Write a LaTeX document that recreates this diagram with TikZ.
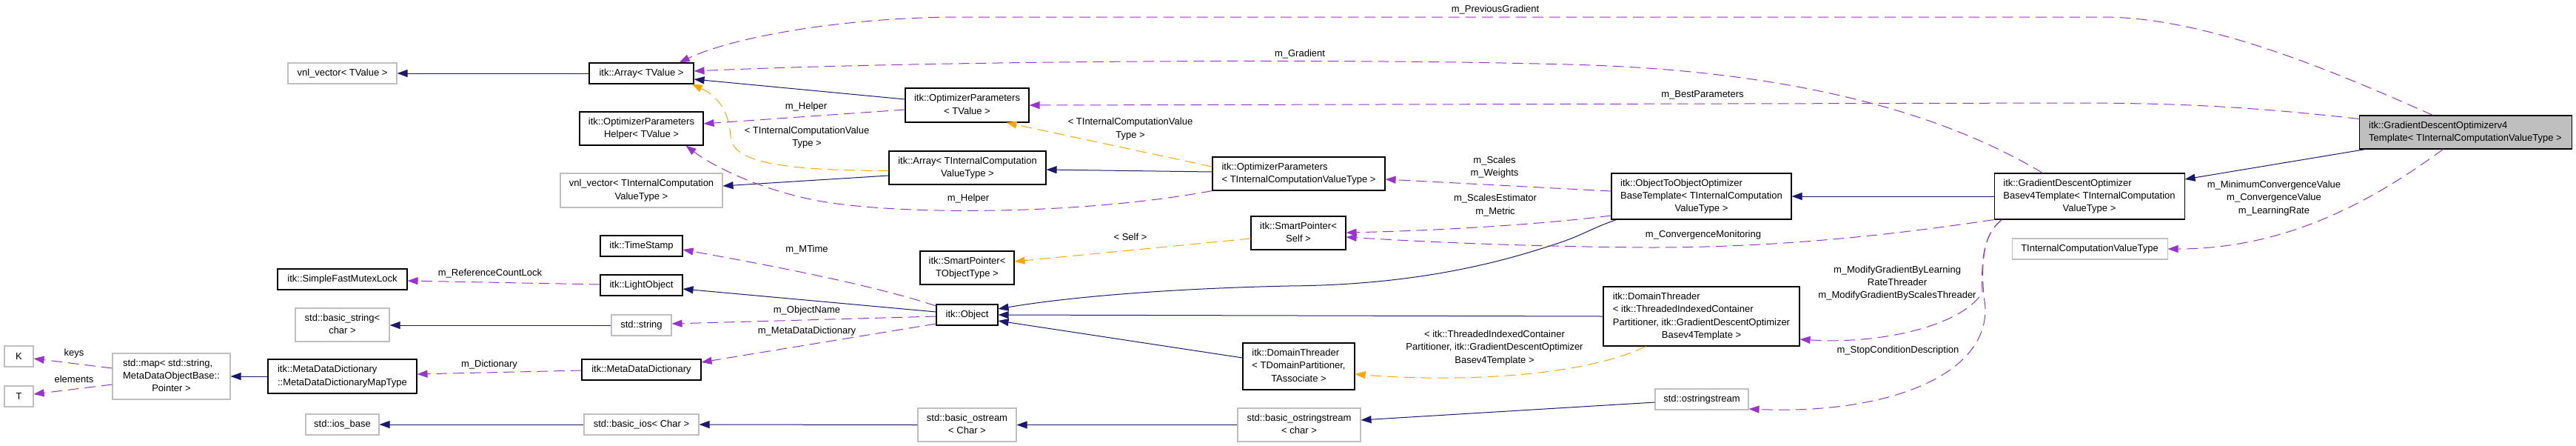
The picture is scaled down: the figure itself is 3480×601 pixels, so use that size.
\documentclass[tikz,border=0pt]{standalone}
\usepackage{fontspec}
\setmainfont{Liberation Sans}
\usetikzlibrary{arrows.meta,calc}
\definecolor{navy}{RGB}{25,25,112}
\definecolor{orch}{RGB}{154,50,205}
\definecolor{orng}{RGB}{255,165,0}
\definecolor{gseven}{RGB}{191,191,191}
\newcommand\tb[1]{\begin{tabular}{@{}l@{}}#1\end{tabular}}
\newcommand\lc[1]{\multicolumn{1}{@{}c@{}}{#1}}
\begin{document}
\begin{tikzpicture}[x=0.75pt,y=-0.75pt,
  font=\fontsize{9.75}{13}\selectfont,
  box/.style={draw=black,line width=0.8pt,fill=white,inner sep=0pt},
  gbox/.style={box,draw=gseven},
  sz/.style 2 args={minimum width=#1*0.75pt,minimum height=#2*0.75pt},
  tipa/.style={-{Triangle[length=10.5pt,width=7.5pt]}},
  inh/.style={draw=navy,line width=0.75pt,tipa},
  use/.style={draw=orch,line width=0.75pt,dash pattern=on 11pt off 6pt,tipa},
  tpl/.style={draw=orng,line width=0.75pt,dash pattern=on 11pt off 6pt,tipa},
  lbl/.style={inner sep=0pt,align=center}]
\useasboundingbox (0,0) rectangle (3480,601);
% nodes
\node[gbox,sz={147}{28}] (vnlT) at (462.5,99) {vnl\_vector< TValue >};
\node[box,sz={141}{28}] (arrT) at (866.5,99) {itk::Array< TValue >};
\node[box,sz={167}{45}] (helper) at (866.5,173.5) {\tb{itk::OptimizerParameters\\\lc{Helper< TValue >}}};
\node[gbox,sz={219}{46}] (vnlI) at (866.5,257) {\tb{vnl\_vector< TInternalComputation\\\lc{ValueType >}}};
\node[box,sz={167}{46}] (optT) at (1306.5,142) {\tb{itk::OptimizerParameters\\\lc{< TValue >}}};
\node[box,sz={212}{45}] (arrI) at (1307,226.5) {\tb{itk::Array< TInternalComputation\\\lc{ValueType >}}};
\node[box,sz={233}{45}] (optI) at (1754.5,234.5) {\tb{itk::OptimizerParameters\\\lc{< TInternalComputationValueType >}}};
\node[box,sz={128}{45}] (spSelf) at (1754,314.5) {\tb{itk::SmartPointer<\\\lc{Self >}}};
\node[box,sz={127}{45}] (spT) at (1306.5,361.5) {\tb{itk::SmartPointer<\\\lc{TObjectType >}}};
\node[box,sz={83}{28}] (obj) at (1306.5,425) {itk::Object};
\node[box,sz={151}{63}] (dtT) at (1754.5,494.5) {\tb{itk::DomainThreader\\< TDomainPartitioner,\\\lc{TAssociate >}}};
\node[gbox,sz={133}{45}] (bostr) at (1306.5,573.5) {\tb{std::basic\_ostream\\\lc{< Char >}}};
\node[gbox,sz={166}{45}] (bostrs) at (1755,573.5) {\tb{std::basic\_ostringstream\\\lc{< char >}}};
\node[box,sz={243}{62}] (o2o) at (2298.5,265) {\tb{itk::ObjectToObjectOptimizer\\BaseTemplate< TInternalComputation\\\lc{ValueType >}}};
\node[box,sz={265}{80}] (dtI) at (2298.5,427) {\tb{itk::DomainThreader\\< itk::ThreadedIndexedContainer\\Partitioner, itk::GradientDescentOptimizer\\\lc{Basev4Template >}}};
\node[gbox,sz={126}{28}] (ostrs) at (2299,539) {std::ostringstream};
\node[box,sz={257}{62}] (gdob) at (2822.5,265) {\tb{itk::GradientDescentOptimizer\\Basev4Template< TInternalComputation\\\lc{ValueType >}}};
\node[gbox,sz={210}{28}] (ticvt) at (2823,336) {TInternalComputationValueType};
\node[box,fill=gseven,sz={287}{45}] (gdo) at (3330.5,178.5) {\tb{itk::GradientDescentOptimizerv4\\Template< TInternalComputationValueType >}};
\node[box,sz={175}{28}] (sfml) at (462.5,377) {itk::SimpleFastMutexLock};
\node[gbox,sz={127}{45}] (bstr) at (462.5,438.5) {\tb{std::basic\_string<\\\lc{char >}}};
\node[gbox,sz={39}{28}] (K) at (25.5,481) {K};
\node[gbox,sz={39}{28}] (T) at (25.5,535) {T};
\node[gbox,sz={159}{62}] (map) at (231.5,508) {\tb{std::map< std::string,\\MetaDataObjectBase::\\\lc{Pointer >}}};
\node[box,sz={201}{46}] (mapT) at (462.5,508) {\tb{itk::MetaDataDictionary\\::MetaDataDictionaryMapType}};
\node[gbox,sz={99}{28}] (iosb) at (462.5,573) {std::ios\_base};
\node[box,sz={111}{28}] (ts) at (866.5,332) {itk::TimeStamp};
\node[box,sz={111}{28}] (lo) at (866.5,385) {itk::LightObject};
\node[gbox,sz={81}{28}] (str) at (866.5,439) {std::string};
\node[box,sz={161}{28}] (mdd) at (866.5,499) {itk::MetaDataDictionary};
\node[gbox,sz={155}{28}] (bios) at (866.5,573) {std::basic\_ios< Char >};
% labels
\node[lbl] (l1) at (100,477) {keys};
\node[lbl] (l2) at (100,512) {elements};
\node[lbl] (l3) at (662,369) {m\_ReferenceCountLock};
\node[lbl] (l4) at (661,492) {m\_Dictionary};
\node[lbl] (l5) at (1090,337) {m\_MTime};
\node[lbl] (l6) at (1090,419) {m\_ObjectName};
\node[lbl] (l7) at (1090,447) {m\_MetaDataDictionary};
\node[lbl] (l8) at (1089,144) {m\_Helper};
\node[lbl] (l9) at (1090,185.5) {< TInternalComputationValue\\Type >};
\node[lbl] (l10) at (1527,174) {< TInternalComputationValue\\Type >};
\node[lbl] (l11) at (1308,268) {m\_Helper};
\node[lbl] (l12) at (1527,320) {< Self >};
\node[lbl] (l13) at (2020,13) {m\_PreviousGradient};
\node[lbl] (l14) at (1756,73) {m\_Gradient};
\node[lbl] (l15) at (2300,128) {m\_BestParameters};
\node[lbl] (l16) at (2019,225.5) {m\_Scales\\m\_Weights};
\node[lbl] (l17) at (2020,277) {m\_ScalesEstimator\\m\_Metric};
\node[lbl] (l18) at (2301,317) {m\_ConvergenceMonitoring};
\node[lbl] (l19) at (2019,469.5) {< itk::ThreadedIndexedContainer\\Partitioner, itk::GradientDescentOptimizer\\Basev4Template >};
\node[lbl] (l20) at (2563,382) {m\_ModifyGradientByLearning\\RateThreader\\m\_ModifyGradientByScalesThreader};
\node[lbl] (l21) at (2564,473) {m\_StopConditionDescription};
\node[lbl] (l22) at (3072,267.5) {m\_MinimumConvergenceValue\\m\_ConvergenceValue\\m\_LearningRate};
% inheritance
\draw[inh] (arrT.west) -- (vnlT.east);
\draw[inh] ($(optT.west)+(0,-8)$) -- ($(arrT.east)+(0,8)$);
\draw[inh] ($(arrI.west)+(0,10.5)$) -- ($(vnlI.east)+(0,-6)$);
\draw[inh] ($(optI.west)+(0,-2.5)$) -- ($(arrI.east)+(0,2.5)$);
\draw[inh] ($(obj.west)+(0,-4)$) -- ($(lo.east)+(0,5)$);
\draw[inh] (str.west) -- (bstr.east |- str.west);
\draw[inh] (mapT.west) -- (map.east);
\draw[inh] (bios.west) -- (iosb.east);
\draw[inh] (bostr.west) -- (bios.east);
\draw[inh] (bostrs.west) -- (bostr.east);
\draw[inh] ($(ostrs.west)+(0,4)$) -- ($(bostrs.east)+(0,-6.5)$);
\draw[inh] ($(o2o.south west)+(7,0)$) .. controls (2140,312) and (2140,318) .. (2084,335) .. controls (1990,365) and (1880,385) .. (1740,386) .. controls (1560,390) and (1430,403) .. ($(obj.east)+(0,-8)$);
\draw[inh] ($(dtT.west)+(0,-11.5)$) -- ($(obj.east)+(0,8)$);
\draw[inh] (dtI.west) -- (obj.east);
\draw[inh] (gdob.west) -- (o2o.east);
\draw[inh] ($(gdo.south west)+(9,0)$) -- ($(gdob.east)+(0,-23)$);
% template instances
\draw[tpl] ($(arrI.west)+(0,4)$) .. controls (1060,230) and (990,220) .. (987,185) .. controls (985,150) and (970,130) .. ($(arrT.south east)+(-3,0)$);
\draw[tpl] ($(optI.west)+(0,-9.5)$) -- ($(optT.south east)+(-31,0)$);
\draw[tpl] ($(spSelf.west)+(0,7.5)$) -- ($(spT.east)+(0,-8.5)$);
\draw[tpl] ($(dtI.south west)+(58,0)$) .. controls (2130,512) and (1950,515) .. ($(dtT.east)+(0,10.5)$);
% usage
\draw[use] ($(map.west)+(0,-11)$) -- ($(K.east)+(0,3)$);
\draw[use] ($(map.west)+(0,11)$) -- ($(T.east)+(0,-3)$);
\draw[use] ($(mdd.west)+(0,1)$) -- ($(mapT.east)+(0,-3)$);
\draw[use] ($(lo.west)+(0,-1)$) -- ($(sfml.east)+(0,2)$);
\draw[use] ($(obj.west)+(0,-12)$) .. controls (1180,385) and (1050,360) .. ($(ts.east)+(0,5)$);
\draw[use] ($(obj.west)+(0,2)$) -- ($(str.east)+(0,-2)$);
\draw[use] ($(obj.west)+(0,12)$) -- ($(mdd.east)+(0,-10)$);
\draw[use] ($(optT.west)+(0,6)$) -- ($(helper.east)+(0,-6.5)$);
\draw[use] (optI.south west) .. controls (1450,292) and (1200,290) .. (1100,270) .. controls (1020,254) and (960,222) .. ($(helper.south east)+(-24,0)$);
\draw[use] ($(gdo.north west)+(100,0)$) .. controls (3150,95) and (2980,23) .. (2840,23) -- (1300,23) .. controls (1140,23) and (990,50) .. ($(arrT.north east)+(-20,0)$);
\draw[use] ($(gdob.north west)+(66,0)$) .. controls (2620,150) and (2420,98) .. (2150,88) .. controls (1850,78) and (1250,82) .. ($(arrT.east)+(0,-3)$);
\draw[use] ($(gdo.north west)+(0,5)$) .. controls (3050,145) and (2950,139) .. (2800,139) -- (optT.east);
\draw[use] ($(o2o.west)+(0,-7)$) -- ($(optI.east)+(0,7.5)$);
\draw[use] ($(o2o.west)+(0,26)$) .. controls (2080,303) and (1950,311) .. ($(spSelf.east)+(0,-0.5)$);
\draw[use] (gdob.south west) .. controls (2550,318) and (2400,334) .. (2230,334) .. controls (2050,333) and (1900,325) .. ($(spSelf.east)+(0,5.5)$);
\draw[use] ($(gdob.south west)+(11,0)$) .. controls (2680,315) and (2676,350) .. (2678,395) .. controls (2650,440) and (2540,465) .. ($(dtI.east)+(0,31)$);
\draw[use] ($(gdob.south west)+(11,0)$) .. controls (2680,315) and (2676,350) .. (2680,400) .. controls (2700,500) and (2560,560) .. ($(ostrs.east)+(0,13)$);
\draw[use] ($(gdo.south west)+(114,0)$) .. controls (3220,260) and (3100,336) .. (ticvt.east);
\end{tikzpicture}
\end{document}
